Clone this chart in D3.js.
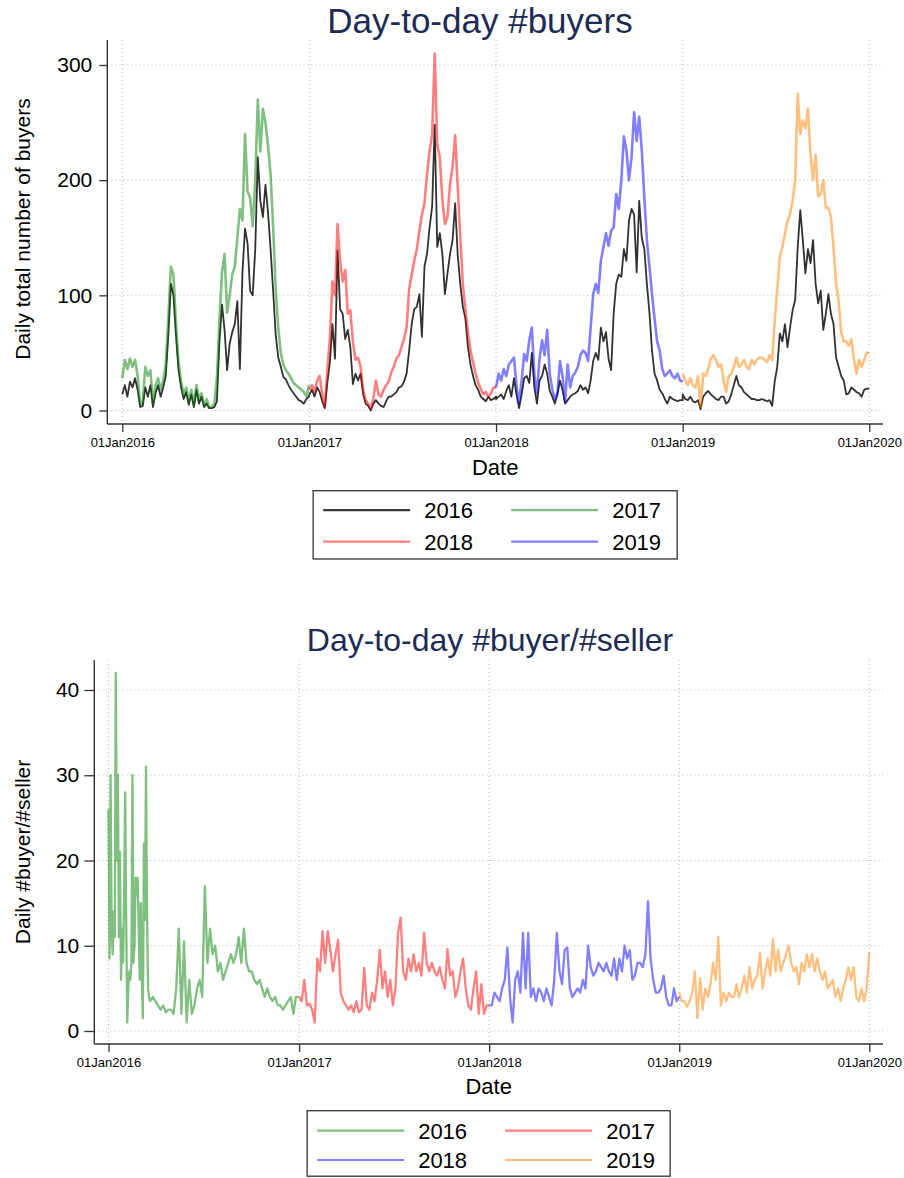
<!DOCTYPE html>
<html><head><meta charset="utf-8">
<script src="https://cdn.jsdelivr.net/npm/d3@7"></script>
<style>
body{margin:0;background:#fff;}
svg{display:block;font-family:"Liberation Sans",Arial,Helvetica,sans-serif;}
</style></head><body>
<svg id="chart" width="904" height="1178"></svg>
<script>
// ---------------- DATA ----------------
const years = [2016, 2017, 2018, 2019, 2020];
const buyersTicks = [0, 100, 200, 300];
const ratioTicks = [0, 10, 20, 30, 40];
const topLegendLabels = ["2016", "2017", "2018", "2019"];
const bottomLegendLabels = ["2016", "2017", "2018", "2019"];
const topTitle = "Day-to-day #buyers";
const bottomTitle = "Day-to-day #buyer/#seller";
const topYLabel = "Daily total number of buyers";
const bottomYLabel = "Daily #buyer/#seller";
const xLabel = "Date";

// Daily total number of buyers: one value every 5 days (days 0,5,...,365 of each year)
const buyersBlack2016 = [14,22,12,25,20,28,18,3,4,20,12,22,3,15,22,12,20,30,65,110,100,65,35,20,10,16,5,14,3,18,6,12,3,6,2,2,3,8,60,92,70,35,58,68,75,95,36,120,158,145,104,100,140,220,182,168,196,172,140,104,66,46,38,29,27,22,18,15,12,9,8,6,10,12];
const buyersBlack2017 = [14,18,12,20,16,8,2,24,42,75,45,139,88,84,62,70,55,23,32,26,32,14,6,4,0,6,9,6,4,3,8,12,12,14,16,20,21,25,32,52,75,88,90,101,64,125,136,159,177,248,142,154,136,101,119,136,148,180,135,110,90,80,55,40,30,22,18,12,10,8,12,9,10,12];
const buyersBlack2018 = [10,12,14,10,17,22,12,28,14,2,14,28,30,24,50,20,6,26,30,40,32,17,12,6,14,26,18,6,9,12,14,15,17,22,18,20,15,26,43,50,44,72,60,68,45,35,84,110,118,116,140,130,165,175,170,120,182,150,140,110,85,52,32,26,18,15,10,6,12,10,9,8,9,9];
const buyersBlack2019 = [14,10,9,12,8,7,9,1,12,15,17,14,12,10,9,12,12,6,8,14,22,30,22,20,16,14,12,10,10,9,9,10,9,8,9,4,25,38,67,60,75,55,72,87,96,142,174,148,119,140,128,148,110,93,104,70,84,101,84,75,46,38,30,26,14,15,20,18,16,15,12,18,19,19];

const buyersYear2016 = [28,44,36,45,38,44,30,5,8,38,30,35,6,22,28,18,26,40,80,125,118,75,42,25,14,20,8,18,5,22,10,15,4,10,3,3,6,28,78,120,136,85,100,118,125,150,175,165,240,190,185,160,200,270,225,262,250,230,205,160,105,72,50,40,35,32,28,24,22,20,18,16,12,22];
const buyersYear2017 = [18,22,16,26,30,14,3,35,62,112,100,162,130,112,122,84,87,60,44,46,38,18,9,6,2,10,26,14,12,18,22,25,33,38,45,48,55,62,72,105,118,130,140,156,170,180,205,225,240,310,230,220,183,162,168,197,212,239,195,150,110,88,68,52,42,32,24,19,14,16,12,15,20,20];
const buyersYear2018 = [20,32,26,36,30,40,43,46,22,6,26,49,43,61,72,30,15,45,61,48,70,32,18,10,15,43,30,8,40,20,30,33,38,48,52,50,43,72,101,110,102,130,142,154,143,156,159,188,175,200,238,226,200,220,259,234,255,226,185,148,125,101,80,60,52,36,30,32,35,30,28,32,26,25];
const buyersYear2019 = [32,26,22,28,22,20,30,3,32,30,36,45,48,44,38,40,26,16,30,32,38,46,38,40,44,38,36,44,40,44,46,46,44,42,48,44,78,105,134,142,154,164,171,182,200,275,240,252,245,262,222,200,222,186,188,200,176,176,168,142,110,95,68,60,60,56,62,44,32,44,38,44,50,50];

// Daily #buyer/#seller
const ratio2016Early = [26,8.5,30,12,9,14,11,42,20,30,11,21,6,12,8,16,28,13,1,5,7,6,8,30,8,10,18,16,18,12,6,15,6,1.5,22,13,31,14,5,4]; // every 2 days from Jan 1
const ratio2016 = [3.5,4,3.5,3,2.5,3,2.2,2.5,2.5,2,5,12,2,10.5,1,6,2,3,5,6,4,17,8,12,9,10,7,8,6,7,8,9,8,9,11,8,12,8,7,7,6,5.5,6,5,4,5,4,3.5,4,3,3,2.5,3,3.5,4,2,4,4]; // every 5 days from day 80
const ratio2017 = [4,3.5,6,3,3.2,2.5,1,8.5,7,11.7,8,11.7,9.5,7,9,10.7,4.5,3.5,3,2.5,3,2.2,3.5,2.2,2.5,7.4,3,2.5,4.5,3.5,6,9.5,5,7,4,6,3,5,11.5,13.3,7,6,8.5,7,9,7,8,6.5,11.5,8,7,8,7,6.5,7.5,6,5,9.6,6.5,7,4,5,7,8.5,5,3,2.5,5,7,2,5.5,2,3,3];
const ratio2018 = [3,3,4.5,4,3.5,5,6,9.8,4,1,6,7,4.5,11.5,5,11.5,4,5,3.5,5,4.5,3.5,5,4,3,6,11.5,7,5.5,9.5,9.8,5,4,4.5,5,4.5,6,5,10,7.5,6.5,7,8,7.5,7,8,7,6.5,8.5,6,8.5,7,10,8.5,9.5,6,6.5,8,8,7.5,9,15.2,8.5,6,4.5,4.5,5,6.5,4,3,3,5,3.5,4];
const ratio2019 = [4.5,3.5,3.5,2.8,3.5,4.5,7,1.5,6.2,2.5,5,4,5.5,8,6,11,3,4.5,3.5,4.5,4,4,5.5,4,5,6.5,4.5,7.5,5,6,6.5,9.2,5,7,8.5,6.5,10.8,7,9.5,7,8,9,10,8,7,7.5,5.5,8,7,9,7.5,9,7,8.5,7,6,7,5,5.5,6,4,5,3.5,5,6,7.5,6,7.5,4,3.5,5,3.5,5,9.3];

// ---------------- HELPERS ----------------
function toSeries(year, startDay, stepDays, values) {
  const base = new Date(year, 0, 1);
  return values.map((v, i) => ({ date: d3.timeDay.offset(base, startDay + i * stepDays), value: v }));
}
const yearDates = years.map(y => new Date(y, 0, 1));
const fmt = d3.timeFormat("%d%b%Y");
const svg = d3.select("#chart");
const FONT = '"Liberation Sans",Arial,Helvetica,sans-serif';

function panel(cfg) {
  const g = svg.append("g");
  const x = d3.scaleTime().domain([yearDates[0], yearDates[yearDates.length - 1]]).range([cfg.x0, cfg.x1]);
  const y = d3.scaleLinear().domain([0, d3.max(cfg.yTicks)]).range([cfg.y0, cfg.yTop]);

  // gridlines
  g.append("g").selectAll("line").data(cfg.yTicks).join("line")
    .attr("x1", cfg.axisX).attr("x2", cfg.right)
    .attr("y1", d => y(d)).attr("y2", d => y(d))
    .attr("stroke", "#b4b4b4").attr("stroke-width", 1).attr("stroke-dasharray", "1,3");
  g.append("g").selectAll("line").data(yearDates).join("line")
    .attr("x1", d => x(d)).attr("x2", d => x(d))
    .attr("y1", cfg.top).attr("y2", cfg.axisY)
    .attr("stroke", "#b4b4b4").attr("stroke-width", 1).attr("stroke-dasharray", "1,3");

  // series
  const line = d3.line().x(d => x(d.date)).y(d => y(d.value));
  cfg.series.forEach(s => {
    g.append("path").datum(s.data).attr("d", line)
      .attr("fill", "none").attr("stroke", s.color)
      .attr("stroke-opacity", s.opacity).attr("stroke-width", s.width)
      .attr("stroke-linejoin", "round");
  });

  // y axis
  const ya = g.append("g").attr("transform", `translate(${cfg.axisX},0)`)
    .call(d3.axisLeft(y).tickValues(cfg.yTicks).tickSize(cfg.yTickSize).tickPadding(cfg.yPad).tickSizeOuter(0));
  ya.select(".domain").remove();
  ya.attr("font-family", FONT).attr("font-size", 21);
  ya.selectAll(".tick line").attr("stroke", "#333").attr("stroke-width", 1.3);
  ya.selectAll(".tick text").attr("fill", "#000");
  g.append("line").attr("x1", cfg.axisX).attr("x2", cfg.axisX).attr("y1", cfg.top).attr("y2", cfg.axisY)
    .attr("stroke", "#333").attr("stroke-width", 1.4);

  // x axis
  const xa = g.append("g").attr("transform", `translate(0,${cfg.axisY})`)
    .call(d3.axisBottom(x).tickValues(yearDates).tickFormat(fmt).tickSize(8).tickPadding(6).tickSizeOuter(0));
  xa.select(".domain").remove();
  xa.attr("font-family", FONT).attr("font-size", 13);
  xa.selectAll(".tick line").attr("stroke", "#333").attr("stroke-width", 1.3);
  xa.selectAll(".tick text").attr("fill", "#000");
  g.append("line").attr("x1", cfg.axisX).attr("x2", cfg.right).attr("y1", cfg.axisY).attr("y2", cfg.axisY)
    .attr("stroke", "#333").attr("stroke-width", 1.4);

  const cx = (cfg.axisX + cfg.right) / 2;
  // title
  g.append("text").attr("x", cfg.titleX).attr("y", cfg.titleY).attr("text-anchor", "middle")
    .attr("font-family", FONT).attr("font-size", cfg.titleSize).attr("fill", "#1c2b55").text(cfg.title);
  // y label
  g.append("text").attr("transform", `translate(${cfg.yLabelX},${cfg.yLabelY}) rotate(-90)`)
    .attr("text-anchor", "middle").attr("font-family", FONT).attr("font-size", 21).attr("fill", "#000")
    .text(cfg.yLabel);
  // x label
  g.append("text").attr("x", cx).attr("y", cfg.xLabelY).attr("text-anchor", "middle")
    .attr("font-family", FONT).attr("font-size", 22).attr("fill", "#000").text(xLabel);

  // legend
  const L = cfg.legend;
  const lg = g.append("g");
  lg.append("rect").attr("x", cx - L.w / 2).attr("y", L.top).attr("width", L.w).attr("height", L.h)
    .attr("fill", "#fff").attr("stroke", "#333").attr("stroke-width", 1.3);
  L.items.forEach((it, i) => {
    const col = i % 2, row = Math.floor(i / 2);
    const lx = cx - L.w / 2 + 10 + col * 188;
    const ly = L.top + L.rowY[row];
    lg.append("line").attr("x1", lx).attr("x2", lx + 87).attr("y1", ly).attr("y2", ly)
      .attr("stroke", it.color).attr("stroke-opacity", it.opacity).attr("stroke-width", 2.2);
    lg.append("text").attr("x", lx + 101).attr("y", ly).attr("dy", "0.36em")
      .attr("font-family", FONT).attr("font-size", 22).attr("fill", "#000").text(it.label);
  });
}

const C = { black: "#262626", green: "#008000", red: "#ff0000", blue: "#0000ff", orange: "#ff8000" };

// ---------------- TOP PANEL ----------------
const blackAll = [].concat(
  toSeries(2016, 0, 5, buyersBlack2016), toSeries(2017, 0, 5, buyersBlack2017),
  toSeries(2018, 0, 5, buyersBlack2018), toSeries(2019, 0, 5, buyersBlack2019));

panel({
  x0: 122.3, x1: 869.3, y0: 410.5, yTop: 65, axisX: 107.3, right: 883, top: 40, axisY: 424,
  yTicks: buyersTicks, yTickSize: 8, yPad: 7,
  title: topTitle, titleX: 480, titleY: 33, titleSize: 35,
  yLabel: topYLabel, yLabelX: 30, yLabelY: 229, xLabelY: 475,
  series: [
    { data: blackAll, color: C.black, opacity: 0.95, width: 1.8 },
    { data: toSeries(2016, 0, 5, buyersYear2016), color: C.green, opacity: 0.5, width: 2.6 },
    { data: toSeries(2017, 0, 5, buyersYear2017), color: C.red, opacity: 0.5, width: 2.6 },
    { data: toSeries(2018, 0, 5, buyersYear2018), color: C.blue, opacity: 0.5, width: 2.6 },
    { data: toSeries(2019, 0, 5, buyersYear2019), color: C.orange, opacity: 0.5, width: 2.6 }
  ],
  legend: { top: 490.7, w: 364, h: 68.3, rowY: [19.5, 51],
    items: [
      { label: topLegendLabels[0], color: "#3a3a3a", opacity: 1 },
      { label: topLegendLabels[1], color: C.green, opacity: 0.5 },
      { label: topLegendLabels[2], color: C.red, opacity: 0.5 },
      { label: topLegendLabels[3], color: C.blue, opacity: 0.5 }
    ] }
});

// ---------------- BOTTOM PANEL ----------------
const ratioGreen = [].concat(toSeries(2016, 0, 2, ratio2016Early), toSeries(2016, 80, 5, ratio2016));
panel({
  x0: 108.5, x1: 869.3, y0: 1031, yTop: 690, axisX: 94.3, right: 883, top: 660, axisY: 1044,
  yTicks: ratioTicks, yTickSize: 10, yPad: 5,
  title: bottomTitle, titleX: 490, titleY: 651, titleSize: 32,
  yLabel: bottomYLabel, yLabelX: 30, yLabelY: 852, xLabelY: 1094,
  series: [
    { data: ratioGreen, color: C.green, opacity: 0.5, width: 2.3 },
    { data: toSeries(2017, 0, 5, ratio2017), color: C.red, opacity: 0.5, width: 2.3 },
    { data: toSeries(2018, 0, 5, ratio2018), color: C.blue, opacity: 0.5, width: 2.3 },
    { data: toSeries(2019, 0, 5, ratio2019), color: C.orange, opacity: 0.5, width: 2.3 }
  ],
  legend: { top: 1110.7, w: 363, h: 65.5, rowY: [20, 49.3],
    items: [
      { label: bottomLegendLabels[0], color: C.green, opacity: 0.5 },
      { label: bottomLegendLabels[1], color: C.red, opacity: 0.5 },
      { label: bottomLegendLabels[2], color: C.blue, opacity: 0.5 },
      { label: bottomLegendLabels[3], color: C.orange, opacity: 0.5 }
    ] }
});
</script>
</body></html>
